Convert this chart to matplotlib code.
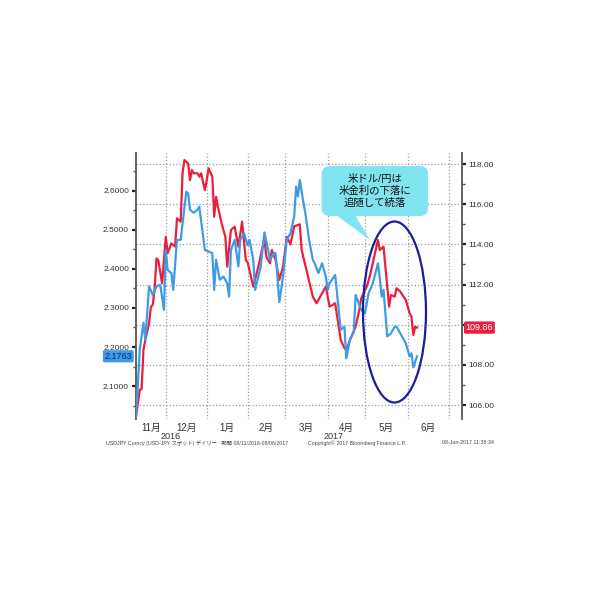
import numpy as np
import matplotlib.pyplot as plt
import matplotlib.ticker as mticker
import matplotlib.transforms as mtrans
from matplotlib.patches import Ellipse, FancyBboxPatch, Polygon

plt.rcParams['font.family'] = ['Liberation Sans', 'Noto Sans CJK JP', 'DejaVu Sans']

# trading day number counted from 08-Nov-2016 (weekdays)
start = '2016-11-08'

# US 10y yield (left axis, blue)
yld_day = [1, 2, 3, 5, 6, 8, 10, 12, 14, 16, 17, 18, 20, 21, 23, 25, 28, 29, 30, 32,
           34, 35, 38, 40, 42, 43, 44, 46, 48, 50, 51, 52, 54, 56, 57, 59, 61, 62, 64, 65,
           68, 70, 72, 73, 75, 76, 78, 80, 82, 84, 86, 87, 88, 89, 91, 92, 94, 96, 97, 99,
           101, 103, 104, 105, 108, 109, 111, 113, 114, 116, 118, 119, 122, 124, 126, 128,
           131, 132, 133, 134, 136, 138, 140, 141, 143, 146, 148, 149, 150, 152]
yld_val = [2.020, 2.107, 2.193, 2.262, 2.218, 2.355, 2.333, 2.355, 2.359, 2.295, 2.448,
           2.397, 2.389, 2.346, 2.474, 2.474, 2.597, 2.593, 2.551, 2.543, 2.551, 2.559,
           2.448, 2.444, 2.440, 2.346, 2.423, 2.372, 2.380, 2.363, 2.329, 2.448, 2.474,
           2.406, 2.474, 2.491, 2.460, 2.474, 2.423, 2.346, 2.406, 2.493, 2.448, 2.423,
           2.440, 2.440, 2.315, 2.380, 2.474, 2.491, 2.534, 2.610, 2.585, 2.627, 2.568,
           2.542, 2.474, 2.423, 2.414, 2.389, 2.414, 2.380, 2.346, 2.363, 2.384, 2.338,
           2.244, 2.252, 2.171, 2.220, 2.239, 2.333, 2.295, 2.286, 2.338, 2.359, 2.414,
           2.376, 2.329, 2.346, 2.227, 2.235, 2.252, 2.252, 2.235, 2.209, 2.176, 2.184,
           2.148, 2.1763]

# USD/JPY (right axis, red)
jpy_day = [1, 3, 4, 5, 6, 8, 9, 10, 11, 12, 13, 15, 17, 18, 20, 22, 23, 25, 26, 27,
           29, 30, 31, 32, 34, 35, 36, 38, 39, 40, 42, 43, 44, 45, 47, 49, 50, 52, 54, 56,
           58, 60, 61, 64, 67, 70, 71, 73, 74, 76, 78, 80, 82, 84, 86, 89, 90, 93, 96, 98,
           100, 103, 105, 108, 111, 113, 114, 116, 119, 121, 122, 125, 127, 129, 131, 132,
           134, 135, 137, 138, 140, 141, 143, 146, 148, 149, 150, 151, 152]
jpy_val = [105.43, 106.76, 106.80, 108.75, 109.24, 110.07, 110.90, 110.99, 111.80, 113.30,
           113.20, 112.06, 114.38, 113.56, 114.05, 113.89, 115.30, 115.13, 117.54, 118.20,
           118.03, 117.20, 117.70, 117.54, 117.54, 117.37, 117.54, 116.70, 117.20, 117.79,
           117.37, 115.38, 116.37, 115.87, 115.05, 114.38, 112.89, 114.72, 114.88, 113.89,
           115.13, 113.22, 113.10, 111.90, 113.00, 114.30, 113.39, 113.06, 113.72, 113.22,
           112.23, 112.89, 114.38, 114.00, 114.90, 115.00, 113.72, 112.56, 111.40, 111.07,
           111.40, 111.90, 110.90, 111.07, 109.24, 108.83, 108.75, 109.24, 109.90, 110.74,
           111.32, 111.90, 112.56, 113.39, 114.22, 113.72, 113.89, 112.89, 110.90, 111.48,
           111.40, 111.82, 111.65, 111.23, 110.57, 110.40, 109.49, 109.90, 109.86]

months = ['2016-11-01', '2016-12-01', '2017-01-01', '2017-02-01', '2017-03-01',
          '2017-04-01', '2017-05-01', '2017-06-01', '2017-07-01']
month_labels = ['11月', '12月', '1月', '2月', '3月', '4月', '5月', '6月']
years = ['2016', '2017']
year_day = [19.7, 107]

last_yld = 2.1763
last_jpy = 109.86

red = '#e8203c'
blue = '#3f9ae8'
grid_c = '#9a9a9a'
spine_c = '#555555'

xmin, xmax = 1, 176
month_pos = np.busday_count(start, months)
mid_pos = [(max(a, xmin) + b) / 2 for a, b in zip(month_pos[:-1], month_pos[1:])]

fig = plt.figure(figsize=(6, 6), dpi=100)
ax = fig.add_axes([0.2267, 0.3017, 0.5428, 0.4433])

# red on base axes, ticks on right
ax.plot(jpy_day, jpy_val, color=red, lw=1.6, zorder=3)
ax.set_ylim(105.31, 118.55)
jpy_ticks = np.arange(106, 119, 2)
ax.set_yticks(jpy_ticks)
ax.yaxis.set_minor_locator(mticker.MultipleLocator(1))
# the 110.00 label sits under the last-value tag
ax.yaxis.set_major_formatter(mticker.FuncFormatter(
    lambda v, p: '' if abs(v - last_jpy) < 0.6 else '%.2f' % v))
ax.grid(axis='y', which='major', ls=':', color=grid_c, lw=0.9)

ax.set_xticks(month_pos)
ax.set_xticklabels([])
ax.set_xticks(mid_pos, minor=True)
ax.set_xticklabels(month_labels, minor=True)
ax.set_xlim(xmin, xmax)
ax.grid(axis='x', which='major', ls=':', color=grid_c, lw=0.9)
ax.tick_params(axis='x', which='both', length=0, labelsize=7, pad=3, labelcolor='#333333')

# blue on twin axes, ticks on left
ax2 = ax.twinx()
ax2.plot(yld_day, yld_val, color=blue, lw=1.6, zorder=3)
ax2.set_xlim(xmin, xmax)
ax2.yaxis.tick_left()
ax.yaxis.tick_right()
ax2.set_ylim(2.016, 2.696)
ax2.set_yticks(np.arange(2.1, 2.65, 0.1))
ax2.yaxis.set_minor_locator(mticker.MultipleLocator(0.05))
ax2.yaxis.set_major_formatter(mticker.FormatStrFormatter('%.4f'))

for a in (ax, ax2):
    a.tick_params(axis='y', which='major', direction='out', length=3, width=1.6,
                  pad=2, labelsize=6, labelcolor='#333333', color='#222222')
    a.tick_params(axis='y', which='minor', direction='out', length=2, width=1, color='#555555')
    for s in ('top', 'bottom'):
        a.spines[s].set_visible(False)
ax.spines['left'].set_visible(False)
ax2.spines['right'].set_visible(False)
ax.spines['right'].set_color(spine_c)
ax.spines['right'].set_linewidth(1.3)
ax2.spines['left'].set_color(spine_c)
ax2.spines['left'].set_linewidth(1.3)

# year labels under months
xt = mtrans.blended_transform_factory(ax.transData, ax.transAxes)
for yr, d in zip(years, year_day):
    ax.text(d, -0.064, yr, transform=xt, ha='center', va='center', fontsize=6.5, color='#333333')

# last value tags
lt = mtrans.blended_transform_factory(ax2.transAxes, ax2.transData)
ax2.text(-0.012, last_yld, '%.4f' % last_yld, transform=lt, ha='right', va='center',
         fontsize=6.5, color='#0b2d6b', zorder=10,
         bbox=dict(boxstyle='round,pad=0.18', fc=blue, ec='none'))
rt = mtrans.blended_transform_factory(ax.transAxes, ax.transData)
ax.text(1.012, last_jpy, '%.2f' % last_jpy, transform=rt, ha='left', va='center',
        fontsize=6.5, color='white', zorder=10,
        bbox=dict(boxstyle='round,pad=0.18', fc=red, ec='none'))

# callout bubble (figure inches)
inch = fig.dpi_scale_trans
r = 0.08
bub_c = '#80e4f0'
fig.patches.append(FancyBboxPatch((3.217 + r, 3.84 + r), 4.28 - 3.217 - 2 * r, 4.34 - 3.84 - 2 * r,
                                  boxstyle='round,pad=%s' % r, fc=bub_c, ec='none',
                                  transform=inch, figure=fig))
fig.patches.append(Polygon([(3.36, 3.85), (3.55, 3.85), (3.70, 3.60)], closed=True,
                           fc=bub_c, ec='none', transform=inch, figure=fig))
fig.text(3.75, 4.09, '米ドル/円は\n米金利の下落に\n追随して続落', transform=inch,
         ha='center', va='center', fontsize=7.5, linespacing=1.25, color='#111111')

# ellipse around May
fig.patches.append(Ellipse((3.945, 2.88), 0.63, 1.81, fill=False, ec='#1c1c9c', lw=1.6,
                           transform=inch, figure=fig))

# footer
fig.text(106 / 600, 1 - 443 / 600, 'USDJPY Curncy (USD-JPY スポット) デイリー   期間 08/11/2016-08/06/2017',
         fontsize=3.8, color='#444444', ha='left', va='center')
fig.text(357 / 600, 1 - 443 / 600, 'Copyright© 2017 Bloomberg Finance L.P.',
         fontsize=3.8, color='#444444', ha='center', va='center')
fig.text(468 / 600, 1 - 443 / 600, '08-Jun-2017 11:38:34',
         fontsize=3.8, color='#444444', ha='center', va='center')

fig.savefig('out.png', dpi=100)
